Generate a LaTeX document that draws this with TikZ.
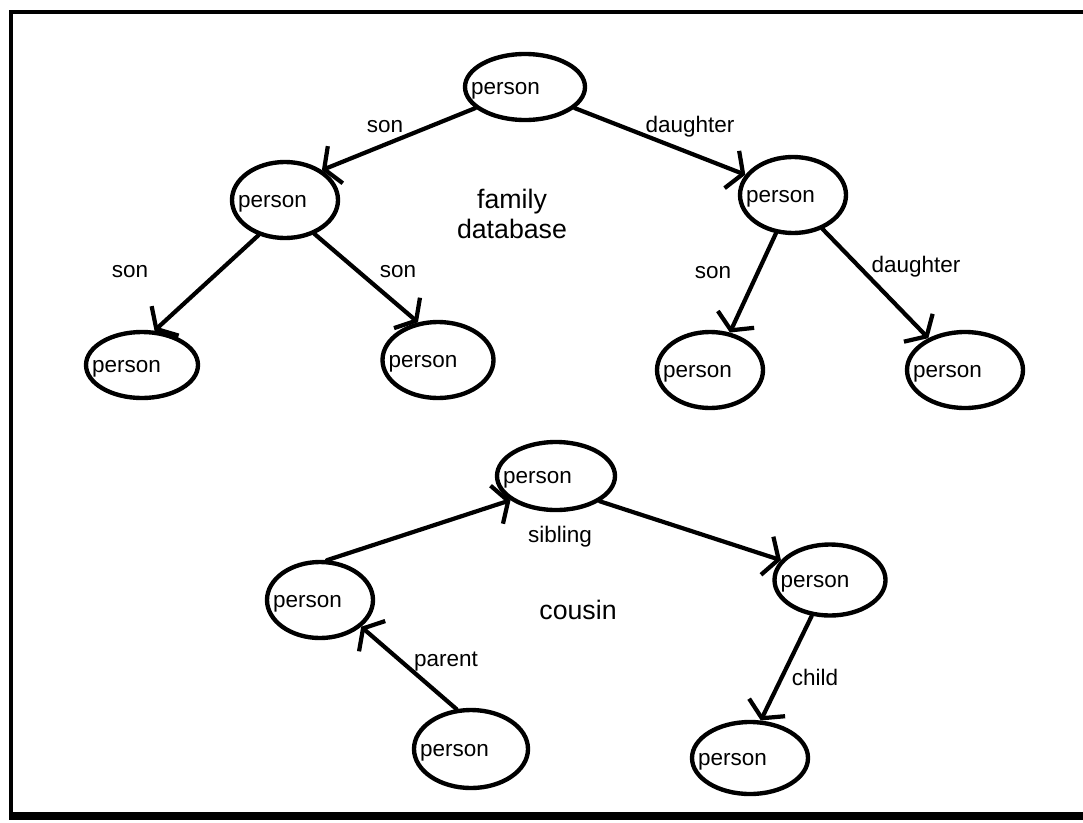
\documentclass[tikz,border=0pt]{standalone}
\usepackage{fontspec}
\setmainfont{Liberation Sans}
\usetikzlibrary{arrows.meta,shapes.geometric}

\begin{document}
\begin{tikzpicture}[
  x=0.025cm,y=-0.025cm,
  font=\fontsize{16}{19}\selectfont,
  pers/.style 2 args={ellipse,draw,line width=3.1pt,inner sep=0pt,
              minimum width=#1*0.025cm,minimum height=#2*0.025cm,
              label={[anchor=west,inner sep=0pt,xshift=0.2cm,yshift=-0.1cm]west:person}},
  ar/.style={-{Straight Barb[length=0.3cm,width=1.0cm]},line width=3pt,line cap=round},
  lbl/.style={inner sep=0pt},
  big/.style={font=\fontsize{19}{21}\selectfont,align=center}
]
\useasboundingbox (0,0) rectangle (1083,822);

% frame
\draw[line width=2.8pt] (1083,12) -- (11,12) -- (11,816);
\draw[line width=5.5pt] (9,816) -- (1083,816);

% family database
\node[pers={120}{66}]  (top) at (525,87)  {};
\node[pers={106}{76}]  (sl)  at (285,200) {};
\node[pers={106}{76}]  (dr)  at (793,195) {};
\node[pers={112}{66}]  (sll) at (142,365) {};
\node[pers={111}{76}]  (slr) at (438,360) {};
\node[pers={106}{76}]  (drl) at (710,370) {};
\node[pers={116}{76}]  (drr) at (965,370) {};

\draw[ar] (top.-157) -- (sl.39);
\draw[ar] (top.-23)  -- (dr.157);
\draw[ar] (sl.-127)  -- (sll.70);
\draw[ar] (sl.-49)   -- (slr.118);
\draw[ar] (dr.-114)  -- (drl.62);
\draw[ar] (dr.-49)   -- (drr.139);

\node[lbl] (l1) at (385,127) {son};
\node[lbl] (l2) at (690,127) {daughter};
\node[lbl] (l3) at (130,272) {son};
\node[lbl] (l4) at (398,272) {son};
\node[lbl] (l5) at (713,273) {son};
\node[lbl] (l6) at (916,267) {daughter};
\node[big] (fam) at (512,214) {family\\database};

% cousin
\node[pers={118}{68}]  (sib) at (556,476) {};
\node[pers={106}{76}]  (par) at (320,600) {};
\node[pers={111}{71}]  (chd) at (830,580) {};
\node[pers={114}{78}]  (me)  at (471,749) {};
\node[pers={116}{72}]  (cou) at (750,758) {};

\draw[ar] (par.80)   -- (sib.208);
\draw[ar] (sib.-30)  -- (chd.158);
\draw[ar] (me.110)   -- (par.-33);
\draw[ar] (chd.-117) -- (cou.74);

\node[lbl] (l7)  at (560,537) {sibling};
\node[lbl] (l8)  at (446,662) {parent};
\node[lbl] (l9)  at (815,677) {child};
\node[big] (cus) at (578,610) {cousin};
\end{tikzpicture}
\end{document}
